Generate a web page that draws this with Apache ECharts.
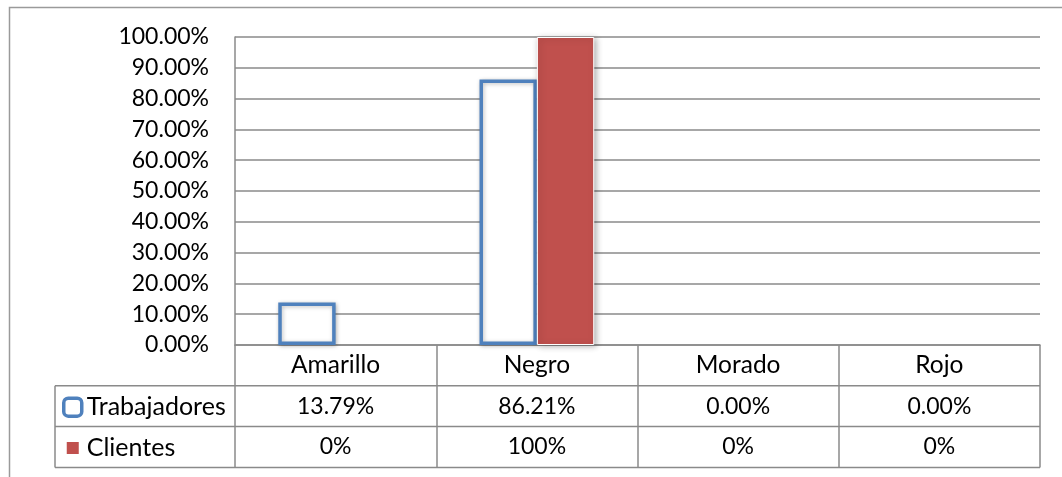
<!DOCTYPE html>
<html>
<head>
<meta charset="utf-8">
<script src="https://cdn.jsdelivr.net/npm/echarts@6/dist/echarts.min.js"></script>
<style>
  html, body { margin: 0; padding: 0; background: #fff; }
  #chart { width: 1062px; height: 477px; }
</style>
</head>
<body>
<div id="chart"></div>
<script>
// Colour preference by category, two respondent groups
const categories = ['Amarillo', 'Negro', 'Morado', 'Rojo'];
const trabajadores = [13.79, 86.21, 0, 0];
const clientes = [0, 100, 0, 0];
const seriesNames = ['Trabajadores', 'Clientes'];
const yTicks = { min: 0, max: 100, step: 10 };

// Layout of the plot and the data table under it
const GRID = { left: 235, right: 22, top: 37, bottom: 132 };
const ROW = 40.8;
const TABLE_LEFT = 55;
const FONT = 'Lato, "Open Sans", sans-serif';
const LINE = '#8a8a8a';
const BLUE = '#4F81BD';
const RED = '#C0504D';

const W = 1062, H = 477;
const axisY = H - GRID.bottom;
const plotRight = W - GRID.right;

// zero-height bars leave no outline or shadow behind
function barData(values) {
  return values.map(function (v) {
    return v === 0 ? { value: v, itemStyle: { opacity: 0 } } : { value: v };
  });
}

const chart = echarts.init(document.getElementById('chart'), null, { renderer: 'canvas' });

const tableLines = [];
for (let k = 1; k <= 3; k++) {
  tableLines.push({
    type: 'line',
    shape: { x1: TABLE_LEFT, y1: axisY + ROW * k, x2: plotRight, y2: axisY + ROW * k },
    style: { stroke: LINE, lineWidth: 1.5 }
  });
}
tableLines.push({
  type: 'line',
  shape: { x1: TABLE_LEFT, y1: axisY + ROW, x2: TABLE_LEFT, y2: axisY + ROW * 3 },
  style: { stroke: LINE, lineWidth: 1.5 }
});

chart.setOption({
  backgroundColor: '#fff',
  animation: false,
  textStyle: { fontFamily: FONT },
  grid: { left: GRID.left, right: GRID.right, top: GRID.top, bottom: GRID.bottom, containLabel: false },
  legend: {
    orient: 'vertical',
    left: 62,
    top: axisY + ROW + 1,
    itemGap: 0,
    itemWidth: 18,
    itemHeight: 18,
    padding: 0,
    selectedMode: false,
    textStyle: { fontFamily: FONT, fontSize: 25, color: '#000', lineHeight: ROW },
    data: [
      {
        name: seriesNames[0],
        icon: 'roundRect',
        itemStyle: { color: '#fff', borderColor: BLUE, borderWidth: 3.5, shadowBlur: 0 }
      },
      {
        name: seriesNames[1],
        icon: 'path://M3,3h12v12h-12z M0,0h0.01v0.01h-0.01z M17.99,17.99h0.01v0.01h-0.01z',
        itemStyle: { color: RED, borderWidth: 0, shadowBlur: 0 }
      }
    ]
  },
  xAxis: {
    type: 'category',
    data: categories,
    boundaryGap: true,
    axisLine: { show: true, lineStyle: { color: LINE, width: 1.5 } },
    axisTick: { show: true, length: ROW * 3, lineStyle: { color: LINE, width: 1.5 } },
    axisLabel: {
      margin: 0,
      interval: 0,
      verticalAlign: 'top',
      fontFamily: FONT,
      fontSize: 23,
      color: '#000',
      lineHeight: ROW,
      formatter: function (value, idx) {
        return [
          '{cat|' + value + '}',
          trabajadores[idx].toFixed(2) + '%',
          clientes[idx].toFixed(0) + '%'
        ].join('\n');
      },
      rich: {
        cat: { fontFamily: FONT, fontSize: 24.5, color: '#000', lineHeight: ROW }
      }
    }
  },
  yAxis: {
    type: 'value',
    min: yTicks.min,
    max: yTicks.max,
    interval: yTicks.step,
    axisLine: { show: true, lineStyle: { color: LINE, width: 1.5 } },
    axisTick: { show: false },
    splitLine: { show: true, lineStyle: { color: LINE, width: 1.5 } },
    axisLabel: {
      margin: 26,
      fontFamily: FONT,
      fontSize: 23,
      color: '#000',
      formatter: function (v) { return v.toFixed(2) + '%'; }
    }
  },
  series: [
    {
      name: seriesNames[0],
      type: 'bar',
      data: barData(trabajadores),
      barGap: '0%',
      barCategoryGap: '43%',
      itemStyle: {
        color: '#ffffff',
        borderColor: BLUE,
        borderWidth: 3.5,
        shadowBlur: 4,
        shadowColor: 'rgba(0,0,0,0.25)',
        shadowOffsetX: 1,
        shadowOffsetY: 1
      }
    },
    {
      name: seriesNames[1],
      type: 'bar',
      data: barData(clientes),
      barGap: '0%',
      barCategoryGap: '43%',
      itemStyle: {
        color: RED,
        borderColor: '#ffffff',
        borderWidth: 1,
        shadowBlur: 6,
        shadowColor: 'rgba(0,0,0,0.3)',
        shadowOffsetX: 2,
        shadowOffsetY: 1
      }
    }
  ],
  graphic: [
    {
      type: 'polyline',
      shape: { points: [[9.5, H + 5], [9.5, 7.5], [W + 5, 7.5]] },
      style: { stroke: '#9a9a9a', lineWidth: 1.5, fill: null }
    }
  ].concat(tableLines)
});
</script>
</body>
</html>
